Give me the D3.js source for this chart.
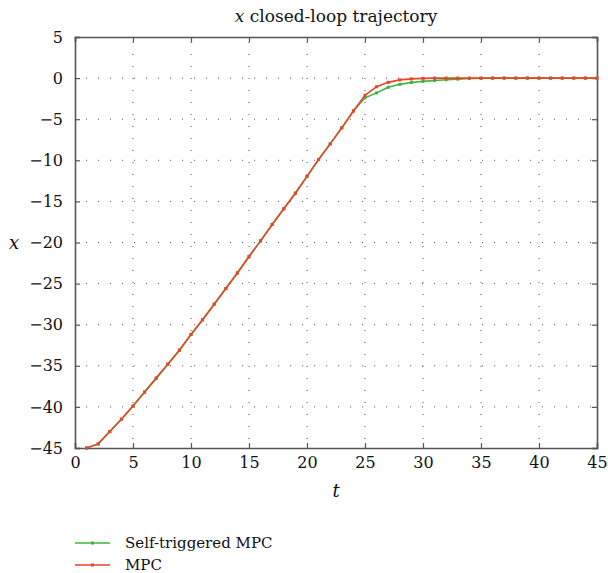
<!DOCTYPE html>
<html>
<head>
<meta charset="utf-8">
<script src="https://cdn.jsdelivr.net/npm/d3@7"></script>
<style>
  body { margin: 0; background: #fff; }
</style>
</head>
<body>
<svg id="chart"></svg>
<script>
// time steps
const tValues = d3.range(1, 46);

// MPC trajectory
const mpcValues = [
  -45, -44.5, -43, -41.5, -39.9, -38.2, -36.5, -34.8, -33.1, -31.2,
  -29.4, -27.5, -25.6, -23.7, -21.7, -19.8, -17.8, -15.9, -14.0, -11.95,
  -9.9, -8.0, -6.05, -4.0, -2.1, -1.05, -0.52, -0.22, -0.1, -0.03,
  0, 0, 0, 0, 0, 0, 0, 0, 0, 0,
  0, 0, 0, 0, 0
];

// self-triggered MPC trajectory
const stValues = [
  -45, -44.5, -43, -41.5, -39.9, -38.2, -36.5, -34.8, -33.1, -31.2,
  -29.4, -27.5, -25.6, -23.7, -21.7, -19.8, -17.8, -15.9, -14.0, -11.95,
  -9.9, -8.0, -6.05, -4.0, -2.4, -1.8, -1.12, -0.76, -0.53, -0.4,
  -0.29, -0.2, -0.12, -0.05, -0.02, 0, 0, 0, 0, 0,
  0, 0, 0, 0, 0
];

const xTicks = d3.range(0, 46, 5);
const yTicks = d3.range(-45, 6, 5);

const seriesNames = ['Self-triggered MPC', 'MPC'];
const seriesColors = ['#3cb43c', '#e8452a'];

const serif = 'DejaVu Serif';

const width = 608, height = 573;
const margin = { top: 37, right: 11, bottom: 125, left: 75 };
const boundedWidth = width - margin.left - margin.right;
const boundedHeight = height - margin.top - margin.bottom;

const svg = d3.select('#chart')
    .attr('width', width)
    .attr('height', height)
    .attr('font-family', serif);

const bounds = svg.append('g')
    .attr('transform', `translate(${margin.left}, ${margin.top})`);

const xScale = d3.scaleLinear().domain([0, 45]).range([0, boundedWidth]);
const yScale = d3.scaleLinear().domain([-45, 5]).range([boundedHeight, 0]);

// dotted grid
const gridColor = '#555';
bounds.append('g')
    .selectAll('line')
    .data(xTicks.slice(1, -1))
    .join('line')
    .attr('x1', d => xScale(d)).attr('x2', d => xScale(d))
    .attr('y1', 0).attr('y2', boundedHeight)
    .attr('stroke', gridColor)
    .attr('stroke-width', 1)
    .attr('stroke-dasharray', '1,11')
    .attr('stroke-dashoffset', -5);

bounds.append('g')
    .selectAll('line')
    .data(yTicks.slice(1, -1))
    .join('line')
    .attr('x1', 0).attr('x2', boundedWidth)
    .attr('y1', d => yScale(d)).attr('y2', d => yScale(d))
    .attr('stroke', gridColor)
    .attr('stroke-width', 1)
    .attr('stroke-dasharray', '1,11')
    .attr('stroke-dashoffset', -11);

// axes with inward ticks
const axisColor = '#555';
const tickLen = 5;

const xAxisG = bounds.append('g')
    .attr('transform', `translate(0, ${boundedHeight})`)
    .call(d3.axisBottom(xScale).tickValues(xTicks).tickSize(-tickLen).tickPadding(9));
const xTopG = bounds.append('g')
    .call(d3.axisTop(xScale).tickValues(xTicks).tickSize(-tickLen).tickFormat(''));
const yAxisG = bounds.append('g')
    .call(d3.axisLeft(yScale).tickValues(yTicks).tickSize(-tickLen).tickPadding(12)
        .tickFormat(d => d < 0 ? '\u2212' + Math.abs(d) : d));
const yRightG = bounds.append('g')
    .attr('transform', `translate(${boundedWidth}, 0)`)
    .call(d3.axisRight(yScale).tickValues(yTicks).tickSize(-tickLen).tickFormat(''));

[xAxisG, xTopG, yAxisG, yRightG].forEach(g => {
    g.attr('font-family', serif).attr('font-size', 16);
    g.select('.domain').attr('stroke', axisColor).attr('stroke-width', 1.6);
    g.selectAll('.tick line').attr('stroke', axisColor).attr('stroke-width', 1.2);
    g.selectAll('.tick text').attr('fill', '#111');
});

// series
const line = d3.line()
    .x((d, i) => xScale(tValues[i]))
    .y(d => yScale(d));

const seriesData = [stValues, mpcValues];

seriesData.forEach((values, k) => {
    const g = bounds.append('g');
    g.append('path')
        .datum(values)
        .attr('d', line)
        .attr('fill', 'none')
        .attr('stroke', seriesColors[k])
        .attr('stroke-width', 1.6);
    g.selectAll('rect')
        .data(values)
        .join('rect')
        .attr('x', (d, i) => xScale(tValues[i]) - 1.5)
        .attr('y', d => yScale(d) - 1.5)
        .attr('width', 3)
        .attr('height', 3)
        .attr('fill', seriesColors[k]);
});

// title and axis labels
const title = svg.append('text')
    .attr('x', margin.left + boundedWidth / 2)
    .attr('y', 22)
    .attr('text-anchor', 'middle')
    .attr('font-size', 17)
    .attr('fill', '#111');
title.append('tspan').attr('font-style', 'italic').text('x');
title.append('tspan').text(' closed-loop trajectory');

svg.append('text')
    .attr('x', 14)
    .attr('y', margin.top + boundedHeight / 2 + 6)
    .attr('text-anchor', 'middle')
    .attr('font-size', 18)
    .attr('font-style', 'italic')
    .attr('fill', '#111')
    .text('x');

svg.append('text')
    .attr('x', margin.left + boundedWidth / 2)
    .attr('y', 497)
    .attr('text-anchor', 'middle')
    .attr('font-size', 18)
    .attr('font-style', 'italic')
    .attr('fill', '#111')
    .text('t');

// legend
const legend = svg.append('g')
    .attr('transform', 'translate(75, 543)');

const legendItems = legend.selectAll('g')
    .data(seriesNames)
    .join('g')
    .attr('transform', (d, i) => `translate(0, ${i * 22})`);

legendItems.append('line')
    .attr('x1', 0).attr('x2', 35)
    .attr('stroke', (d, i) => seriesColors[i])
    .attr('stroke-width', 1.6);
legendItems.append('rect')
    .attr('x', 16).attr('y', -1.5)
    .attr('width', 3).attr('height', 3)
    .attr('fill', (d, i) => seriesColors[i]);
legendItems.append('text')
    .attr('x', 50)
    .attr('y', 5)
    .attr('font-size', 15)
    .attr('fill', '#111')
    .text(d => d);
</script>
</body>
</html>
